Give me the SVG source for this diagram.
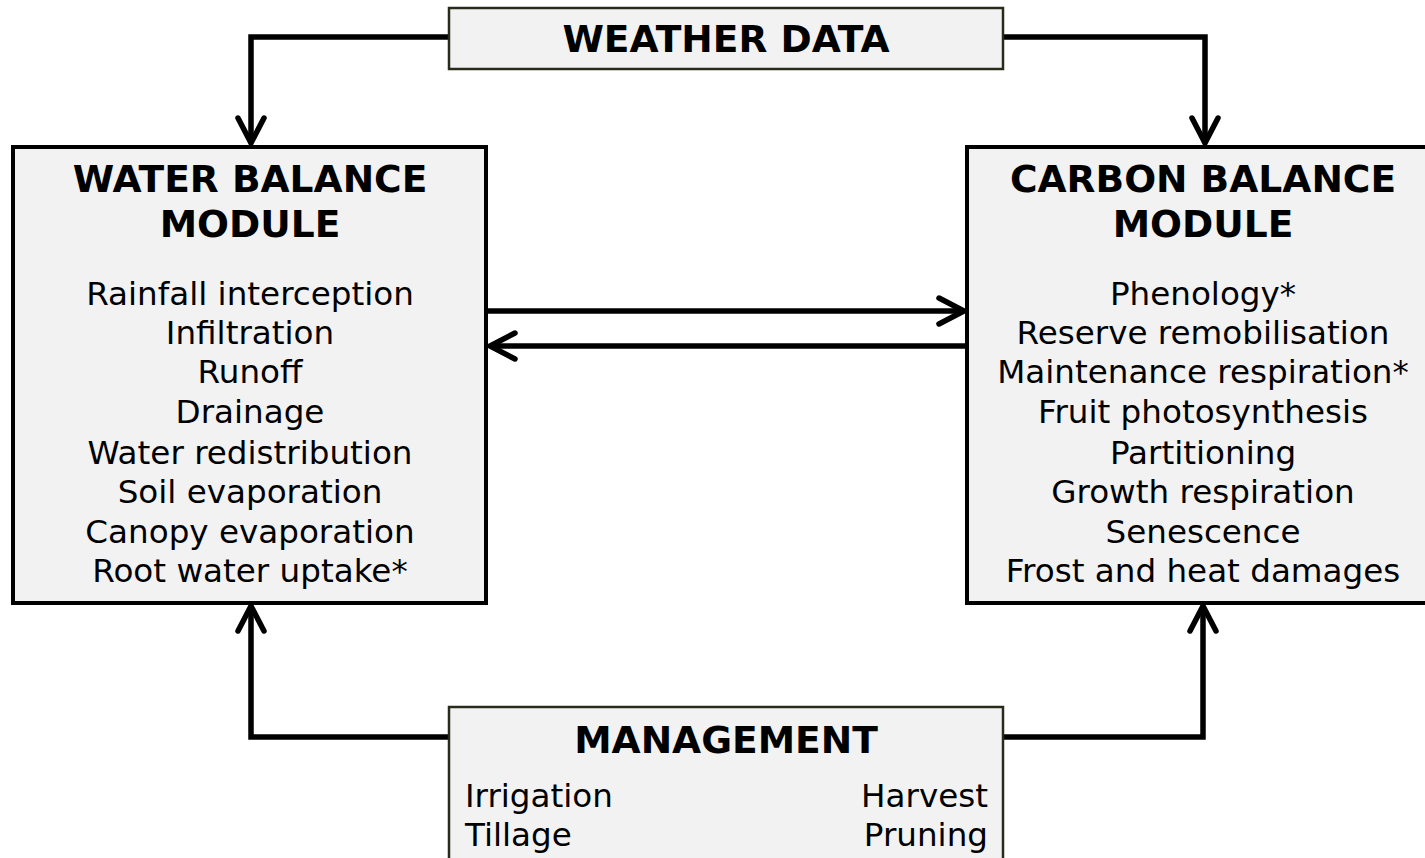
<svg xmlns="http://www.w3.org/2000/svg" width="1425" height="858" viewBox="0 0 1425 858">
<style>
.box{fill:#f2f2f2;stroke:#000;stroke-width:4}
.sbox{fill:#f2f2f2;stroke:#2a2a1a;stroke-width:2.5}
.title{font-family:"DejaVu Sans",Verdana,sans-serif;font-weight:bold;font-size:37.6px;fill:#000}
.body{font-family:"DejaVu Sans",Verdana,sans-serif;font-size:32.6px;fill:#000}
.conn{fill:none;stroke:#000;stroke-width:5.5;stroke-linejoin:miter}
</style>
<defs>
<marker id="arr" markerUnits="userSpaceOnUse" viewBox="-30 -16 34 32" markerWidth="34" markerHeight="32" refX="0" refY="0" orient="auto" overflow="visible">
<path d="M-25,-13 L0,0 L-25,13" fill="none" stroke="#000" stroke-width="5.5" stroke-linecap="round" stroke-linejoin="miter"/>
</marker>
</defs>
<rect width="1425" height="858" fill="#fff"/>
<g id="connectors">
<path class="conn" d="M449,37 H251 V143" marker-end="url(#arr)"/>
<path class="conn" d="M1003,37 H1205 V143" marker-end="url(#arr)"/>
<path class="conn" d="M449,737 H251 V606" marker-end="url(#arr)"/>
<path class="conn" d="M1003,737 H1203 V606" marker-end="url(#arr)"/>
<path class="conn" d="M487,311 H964" marker-end="url(#arr)"/>
<path class="conn" d="M967,346 H490" marker-end="url(#arr)"/>
</g>
<g id="weather">
<rect class="sbox" x="449" y="8" width="554" height="61"/>
<text class="title" x="726" y="52" text-anchor="middle">WEATHER DATA</text>
</g>
<g id="water">
<rect class="box" x="13" y="147" width="473" height="456"/>
<text class="title" x="250" y="192" text-anchor="middle">WATER BALANCE</text>
<text class="title" x="250" y="237" text-anchor="middle">MODULE</text>
<g class="body" text-anchor="middle">
<text x="250" y="305">Rainfall interception</text>
<text x="250" y="344">Infiltration</text>
<text x="250" y="383">Runoff</text>
<text x="250" y="423">Drainage</text>
<text x="250" y="464">Water redistribution</text>
<text x="250" y="503">Soil evaporation</text>
<text x="250" y="543">Canopy evaporation</text>
<text x="250" y="582">Root water uptake*</text>
</g>
</g>
<g id="carbon">
<rect class="box" x="967" y="147" width="480" height="456"/>
<text class="title" x="1203" y="192" text-anchor="middle">CARBON BALANCE</text>
<text class="title" x="1203" y="237" text-anchor="middle">MODULE</text>
<g class="body" text-anchor="middle">
<text x="1203" y="305">Phenology*</text>
<text x="1203" y="344">Reserve remobilisation</text>
<text x="1203" y="383">Maintenance respiration*</text>
<text x="1203" y="423">Fruit photosynthesis</text>
<text x="1203" y="464">Partitioning</text>
<text x="1203" y="503">Growth respiration</text>
<text x="1203" y="543">Senescence</text>
<text x="1203" y="582">Frost and heat damages</text>
</g>
</g>
<g id="management">
<rect class="sbox" x="449" y="707" width="554" height="170"/>
<text class="title" x="726" y="753" text-anchor="middle">MANAGEMENT</text>
<g class="body">
<text x="465" y="807">Irrigation</text>
<text x="465" y="846">Tillage</text>
<text x="988" y="807" text-anchor="end">Harvest</text>
<text x="988" y="846" text-anchor="end">Pruning</text>
</g>
</g>
</svg>
